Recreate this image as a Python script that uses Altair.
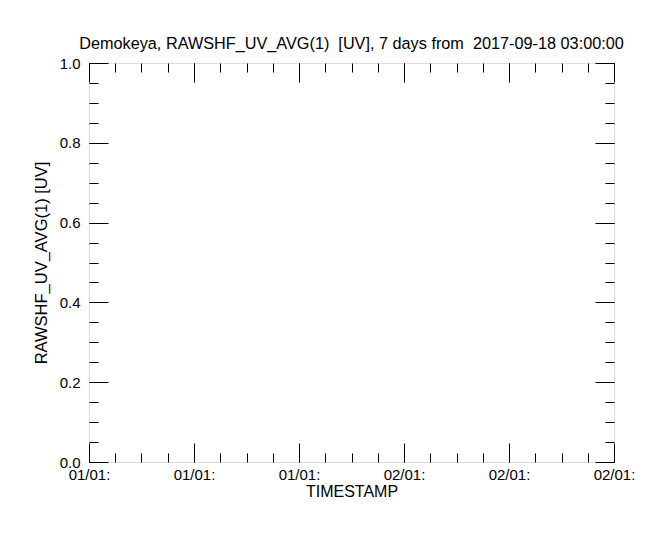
import altair as alt
import pandas as pd

FONT = "Liberation Sans"

# No data values are plotted in the reference (empty record)
timestamps = []
values = []

x_major = [0, 1.4, 2.8, 4.2, 5.6, 7.0]
x_labels = ["01/01:", "01/01:", "01/01:", "02/01:", "02/01:", "02/01:"]
x_minor = [0, 0.35, 0.7, 1.05, 1.4, 1.75, 2.1, 2.45, 2.8, 3.15, 3.5, 3.85,
           4.2, 4.55, 4.9, 5.25, 5.6, 5.95, 6.3, 6.65, 7.0]
y_major = [0, 0.2, 0.4, 0.6, 0.8, 1.0]
y_minor = [0, 0.05, 0.1, 0.15, 0.2, 0.25, 0.3, 0.35, 0.4, 0.45, 0.5, 0.55,
           0.6, 0.65, 0.7, 0.75, 0.8, 0.85, 0.9, 0.95, 1.0]

title_text = "Demokeya, RAWSHF_UV_AVG(1)\u00a0 [UV], 7 days from\u00a0 2017-09-18 03:00:00"

df = pd.DataFrame({"t": pd.Series(timestamps, dtype=float),
                   "v": pd.Series(values, dtype=float)})

xs = alt.Scale(domain=[0, 7], nice=False, zero=False)
ys = alt.Scale(domain=[0, 1], nice=False, zero=False)

lab_list = "[" + ",".join("'" + s + "'" for s in x_labels) + "]"
val_list = "[" + ",".join(str(v) for v in x_major) + "]"
label_expr = f"{lab_list}[indexof({val_list}, datum.value)]"

x_label_axis = alt.Axis(orient="bottom", values=x_major, labelExpr=label_expr,
                        ticks=False, domain=False, grid=False,
                        labelFont=FONT, labelFontSize=15, labelColor="black",
                        labelPadding=5, labelFlush=False, labelOverlap=False,
                        title="TIMESTAMP", titleFont=FONT, titleFontSize=16,
                        titleFontWeight="normal", titleColor="black", titlePadding=1)
y_label_axis = alt.Axis(orient="left", values=y_major, format=".1f",
                        ticks=False, domain=False, grid=False,
                        labelFont=FONT, labelFontSize=15, labelColor="black",
                        labelPadding=9, labelFlush=False, labelOverlap=False,
                        title="RAWSHF_UV_AVG(1) [UV]", titleFont=FONT, titleFontSize=16.5,
                        titleFontWeight="normal", titleColor="black", titlePadding=10)


def tick_axis(orient, vals, size):
    return alt.Axis(orient=orient, values=vals, labels=False, domain=False,
                    grid=False, ticks=True, tickSize=size, offset=-size,
                    tickColor="black", tickWidth=1, title=None)


def layer(xaxis, yaxis):
    return alt.Chart(df).mark_point(opacity=0).encode(
        x=alt.X("t:Q", scale=xs, axis=xaxis),
        y=alt.Y("v:Q", scale=ys, axis=yaxis),
    )


layers = [
    layer(x_label_axis, y_label_axis),
    layer(tick_axis("bottom", x_major, 19), tick_axis("left", y_major, 19)),
    layer(tick_axis("bottom", x_minor, 9), tick_axis("left", y_minor, 9)),
    layer(tick_axis("top", x_major, 19), tick_axis("right", y_major, 19)),
    layer(tick_axis("top", x_minor, 9), tick_axis("right", y_minor, 9)),
]

chart = alt.layer(*layers).resolve_scale(
    x="independent", y="independent"
).resolve_axis(
    x="independent", y="independent"
).properties(
    width=525,
    height=399,
    autosize=alt.AutoSizeParams(type="none"),
    padding={"left": 81, "top": 55, "right": 44, "bottom": 63},
    title=alt.TitleParams(text=title_text, font=FONT, fontSize=16.25,
                          fontWeight="normal", color="black", anchor="middle",
                          frame="group", offset=-9, baseline="alphabetic"),
).configure_view(
    stroke="black", strokeWidth=1
).configure(background="white")

chart.save("out.html", embed_options={"renderer": "svg", "actions": False})
